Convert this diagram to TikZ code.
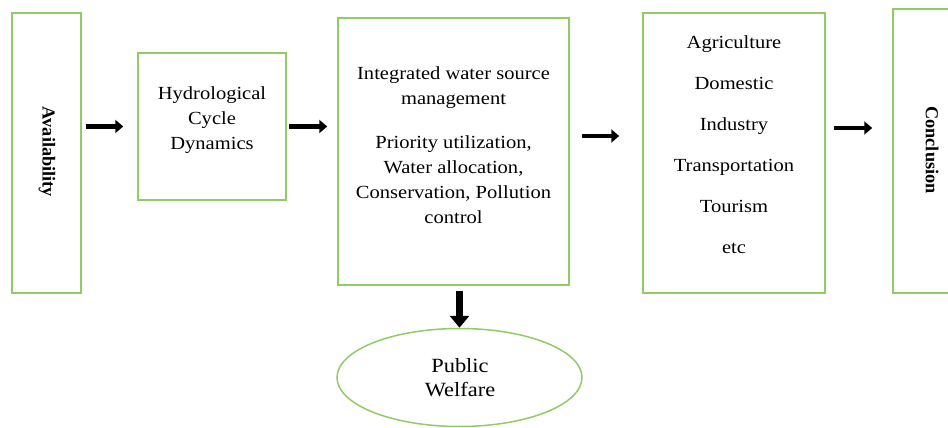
\documentclass[tikz,border=0pt]{standalone}
\usepackage{fontspec}
\setmainfont{Liberation Serif}[FakeStretch=1.11]
\newfontfamily\sidefont{Liberation Serif}
\usetikzlibrary{arrows.meta,calc,shapes.geometric}
\definecolor{boxgreen}{RGB}{146,202,102}
\tikzset{
  box/.style={draw=boxgreen, line width=1.5pt, inner sep=0pt},
  txt/.style={align=center, font=\fontsize{18.5}{25}\selectfont},
  sidetxt/.style={rotate=-90, font=\sidefont\bfseries\fontsize{18.3}{22}\selectfont},
  flow/.style={-{Triangle[length=8pt,width=13pt]}, line width=4.5pt},
  bigflow/.style={-{Triangle[length=12pt,width=19pt]}, line width=7pt}
}

\begin{document}
\begin{tikzpicture}[x=1pt,y=1pt]
\clip (0,0) rectangle (948,-428);

% boxes
\node[box, minimum width=69pt, minimum height=280pt] (avail) at (46.5,-153) {};
\node[box, minimum width=148pt, minimum height=147pt] (hydro) at (212,-126.5) {};
\node[box, minimum width=231pt, minimum height=267pt] (integ) at (453.5,-151.5) {};
\node[box, minimum width=182pt, minimum height=280pt] (uses) at (734,-153) {};
\node[box, minimum width=120pt, minimum height=284pt] (concl) at (953,-151) {};
\node[box, ellipse, minimum width=245pt, minimum height=98pt] (welfare) at (459.5,-377.5) {};

% texts
\node[sidetxt] (availtxt) at (47,-152) {Availability};
\node[txt] (hydrotxt) at (212,-120) {Hydrological\\Cycle\\Dynamics};
\node[txt] (integtxt) at (453.5,-145) {Integrated water source\\management\\[19pt]
  Priority utilization,\\Water allocation,\\Conservation, Pollution\\control};
\node[txt] (usestxt) at (734,-145) {Agriculture\\[16pt]Domestic\\[16pt]Industry\\[16pt]
  Transportation\\[16pt]Tourism\\[16pt]etc};
\node[sidetxt] (concltxt) at (932,-150) {Conclusion};
\node[txt, font=\fontsize{20.2}{24}\selectfont] (welfaretxt) at (460,-378) {Public\\Welfare};

% arrows
\draw[flow, shorten <=4pt, shorten >=14pt] (avail.east |- hydro.west) -- (hydro.west);
\draw[flow, shorten <=2pt, shorten >=10pt] (hydro.east) -- (hydro.east -| integ.west);
\draw[flow, shorten <=12pt, shorten >=23pt] ($(integ.east)+(0,15.5)$) -- ($(integ.east -| uses.west)+(0,15.5)$);
\draw[flow, shorten <=8pt, shorten >=20pt] ($(uses.east)+(0,25)$) -- ($(uses.east -| concl.west)+(0,25)$);
\draw[bigflow, shorten <=5pt] (integ.south -| welfare.north) -- (welfare.north);
\end{tikzpicture}
\end{document}
